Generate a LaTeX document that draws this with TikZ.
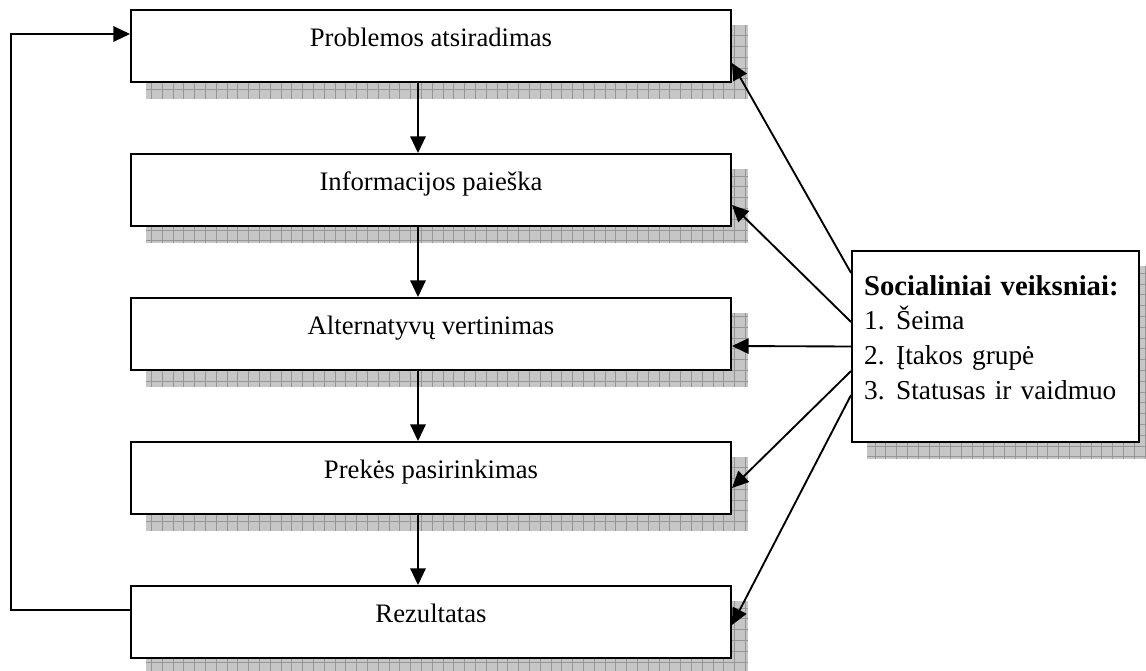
\documentclass[tikz,border=0pt]{standalone}
\usepackage{fontspec}
\setmainfont{Liberation Serif}
\usetikzlibrary{arrows.meta,calc,backgrounds}

\begin{document}
\begin{tikzpicture}[x=0.75pt,y=-0.75pt,
  stagebox/.style={draw=black, line width=1.4pt, fill=white,
    minimum width=450pt, minimum height=54pt, inner sep=0pt,
    text height=14pt, text depth=14pt,
    font=\fontsize{20}{23}\selectfont},
  factorbox/.style={draw=black, line width=1.4pt, fill=white,
    minimum width=215.25pt, minimum height=143.25pt,
    inner xsep=9pt, inner ysep=0pt, text width=197pt, align=left,
    text height=14pt, text depth=91pt,
    font=\fontsize{20.5}{26}\selectfont},
  link/.style={line width=1.4pt, -{Triangle[length=12.5pt,width=11.5pt]}},
  shadefill/.style={fill={rgb,255:red,198;green,198;blue,198}},
  shadegrid/.style={draw={rgb,255:red,150;green,150;blue,150}, line width=0.45pt}]

\useasboundingbox (0,0) rectangle (1146,671);

% decision stages
\node[stagebox] (b1) at (431,46)  {Problemos atsiradimas};
\node[stagebox] (b2) at (431,190) {Informacijos paieška};
\node[stagebox] (b3) at (431,334) {Alternatyvų vertinimas};
\node[stagebox] (b4) at (431,478) {Prekės pasirinkimas};
\node[stagebox] (b5) at (431,622) {Rezultatas};

% social factors
\node[factorbox] (soc) at (995.5,346.5) {%
  {\fontsize{21.5}{26}\selectfont\textbf{Socialiniai veiksniai:}}\\
  \makebox[24pt][l]{1.}Šeima\\
  \makebox[24pt][l]{2.}Įtakos grupė\\
  \makebox[24pt][l]{3.}Statusas ir vaidmuo};

% hatched drop shadows
\begin{scope}[on background layer]
  \clip (0,0) rectangle (1146,671);
  \clip ($(b1.south west)+(16,16)$) rectangle ($(b1.north east)+(16,16)$)
        ($(b2.south west)+(16,16)$) rectangle ($(b2.north east)+(16,16)$)
        ($(b3.south west)+(16,16)$) rectangle ($(b3.north east)+(16,16)$)
        ($(b4.south west)+(16,16)$) rectangle ($(b4.north east)+(16,16)$)
        ($(b5.south west)+(16,16)$) rectangle ($(b5.north east)+(16,16)$)
        ($(soc.south west)+(16,16)$) rectangle ($(soc.north east)+(16,16)$);
  \fill[shadefill] (0,0) rectangle (1146,671);
  \foreach \k in {0,...,107}
    \draw[shadegrid] ({\k*10.8},0) -- ({\k*10.8},671);
  \foreach \k in {0,...,63}
    \draw[shadegrid] (0,{3+\k*10.8}) -- (1146,{3+\k*10.8});
\end{scope}

% main flow
\coordinate (ax) at (418,0);
\foreach \a/\b in {b1/b2,b2/b3,b3/b4,b4/b5}
  \draw[link] (\a.south -| ax) -- (\b.north -| ax);

% feedback loop
\draw[link] ($(b5.west)+(0,-12)$) -- ++(-119,0) |- ($(b1.west)+(0,-12)$);

% influence of social factors
\draw[link] ($(soc.west)+(0,-73.5)$) -- ($(b1.east)+(0,17)$);
\draw[link] ($(soc.west)+(0,-24.5)$) -- ($(b2.east)+(0,15)$);
\draw[link] (soc.west) -- ($(b3.east)+(0,12)$);
\draw[link] ($(soc.west)+(0,24.5)$) -- ($(b4.east)+(0,10)$);
\draw[link] ($(soc.west)+(0,48.5)$) -- ($(b5.east)+(0,3)$);

\end{tikzpicture}
\end{document}
